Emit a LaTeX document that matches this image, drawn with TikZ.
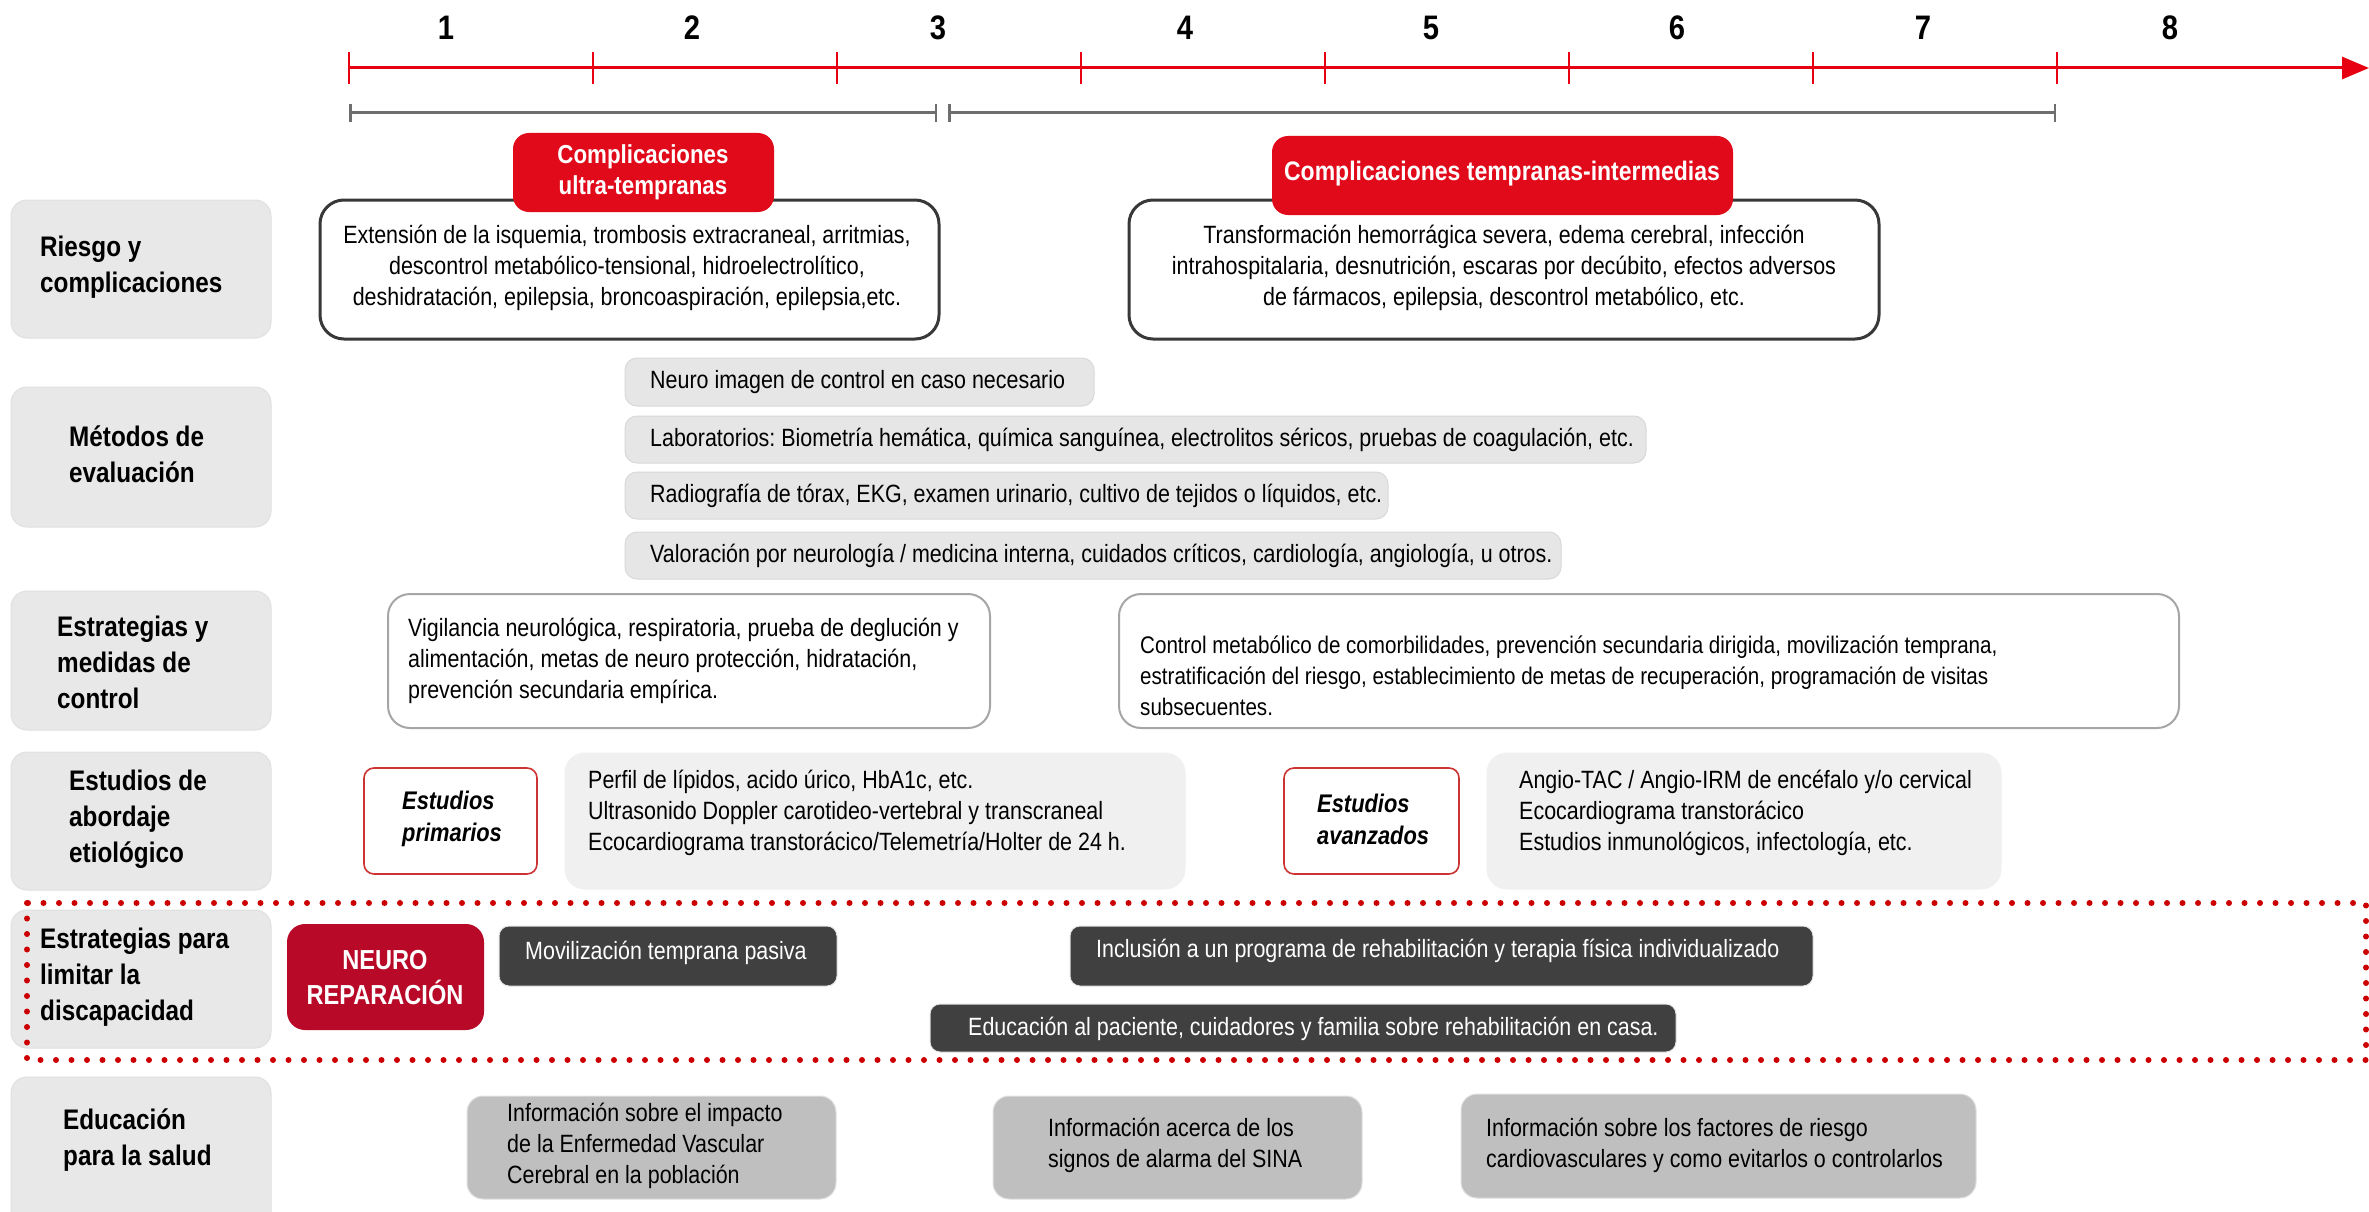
\documentclass[tikz,border=0pt]{standalone}
\usepackage{fontspec}
\setmainfont{Liberation Sans}[FakeStretch=0.858]
\usetikzlibrary{arrows.meta}
\definecolor{axisred}{HTML}{E60012}
\definecolor{compred}{HTML}{E00A1A}
\definecolor{neurored}{HTML}{B80A28}
\definecolor{dotred}{HTML}{CC0000}
\definecolor{lblgray}{HTML}{E8E8E8}
\definecolor{metgray}{HTML}{E6E6E6}
\definecolor{estgray}{HTML}{F0F0F0}
\definecolor{edugray}{HTML}{BFBFBF}
\definecolor{darkbox}{HTML}{404040}
\definecolor{bracketgray}{HTML}{6E6E6E}
\newcommand\mybox[6]{\node[#2,minimum width={(#5-#3)*1pt},minimum height={(#6-#4)*1pt},inner sep=0pt] (#1) at ({(#3+#5)/2},{(#4+#6)/2}) {};}
\tikzset{
  lblbox/.style={fill=lblgray,draw=black!12,line width=1pt,rounded corners=16pt},
  contbox/.style={fill=white,draw=black!78,line width=3pt,rounded corners=24pt},
  compbox/.style={fill=compred,rounded corners=16pt},
  metbox/.style={fill=metgray,draw=black!15,line width=1pt,rounded corners=12pt},
  ctlbox/.style={fill=white,draw=black!35,line width=2pt,rounded corners=22pt},
  tagbox/.style={fill=white,draw=red!75!black!80,line width=1.6pt,rounded corners=10pt},
  estbox/.style={fill=estgray,draw=black!6,line width=1pt,rounded corners=20pt},
  neurobox/.style={fill=neurored,rounded corners=18pt},
  darkrbox/.style={fill=darkbox,draw=black!10,line width=1pt,rounded corners=10pt},
  edubox/.style={fill=edugray,draw=black!12,line width=1pt,rounded corners=16pt},
  txt/.style={inner sep=0pt,align=left,font=\fontsize{25}{31}\selectfont\frenchspacing},
  ctxt/.style={inner sep=0pt,align=center,font=\fontsize{25}{31}\selectfont\frenchspacing},
  lbl/.style={inner sep=0pt,align=left,font=\fontsize{28.3}{36}\selectfont\bfseries},
  wtxt/.style={inner sep=0pt,align=left,text=white,font=\fontsize{25}{31}\selectfont\frenchspacing},
  wbold/.style={inner sep=0pt,align=center,text=white,font=\fontsize{26}{31}\selectfont\bfseries},
  tagtxt/.style={inner sep=0pt,align=left,font=\fontsize{25.5}{32}\selectfont\bfseries\itshape},
  numtxt/.style={inner sep=0pt,font=\fontsize{34}{40}\selectfont\bfseries},
  tickline/.style={draw=axisred,line width=1.6pt},
}
\begin{document}
\begin{tikzpicture}[x=1pt,y=-1pt]
\useasboundingbox[fill=white] (0,0) rectangle (2369,1212);
% ---------- timeline ----------
\coordinate (t0) at (349,68);
\coordinate (tend) at (2369,68);
\draw[draw=axisred,line width=3pt,-{Triangle[length=27pt,width=22pt]}] (t0) -- (tend);
\foreach \i/\x in {1/349,2/593,3/837,4/1081,5/1325,6/1569,7/1813,8/2057}{
  \coordinate (tk\i a) at (\x,52);
  \coordinate (tk\i b) at (\x,84);
  \draw[tickline] (tk\i a) -- (tk\i b);
}
\foreach \i/\x in {1/446,2/692,3/938,4/1185,5/1431,6/1677,7/1923,8/2170}{
  \node[numtxt] (n\i) at (\x,28) {\i};
}
% ---------- brackets ----------
\coordinate (b1a) at (349,113);
\coordinate (b1b) at (937,113);
\coordinate (b2a) at (948,113);
\coordinate (b2b) at (2056,113);
\draw[draw=bracketgray,line width=3pt,{Bar[width=18pt,line width=2.5pt]}-{Bar[width=18pt,line width=2.5pt]}] (b1a) -- (b1b);
\draw[draw=bracketgray,line width=3pt,{Bar[width=18pt,line width=2.5pt]}-{Bar[width=18pt,line width=2.5pt]}] (b2a) -- (b2b);
% ---------- row labels ----------
\mybox{L1}{lblbox}{11}{200}{271}{338}
\mybox{L2}{lblbox}{11}{387}{271}{527}
\mybox{L3}{lblbox}{11}{591}{271}{730}
\mybox{L4}{lblbox}{11}{752}{271}{890}
\mybox{L5}{lblbox}{11}{910}{271}{1048}
\mybox{L6}{lblbox}{11}{1077}{271}{1230}
\node[lbl,anchor=west] (L1t) at (40,267) {Riesgo y\\complicaciones};
\node[lbl,anchor=west] (L2t) at (69,454) {Métodos de\\evaluación};
\node[lbl,anchor=west] (L3t) at (57,662) {Estrategias y\\medidas de\\control};
\node[lbl,anchor=west] (L4t) at (69,819) {Estudios de\\abordaje\\etiológico};
\node[lbl,anchor=west] (L5t) at (40,977) {Estrategias para\\limitar la\\discapacidad};
\node[lbl,anchor=west] (L6t) at (63,1140) {Educación\\para la salud};
% ---------- row 1 ----------
\mybox{C1}{contbox}{320}{200}{939}{339}
\mybox{C2}{contbox}{1129}{200}{1879}{339}
\node[ctxt] (C1t) at (627,268) {Extensión de la isquemia, trombosis extracraneal, arritmias,\\descontrol metabólico-tensional, hidroelectrolítico,\\deshidratación, epilepsia, broncoaspiración, epilepsia,etc.};
\node[ctxt] (C2t) at (1504,268) {Transformación hemorrágica severa, edema cerebral, infección\\intrahospitalaria, desnutrición, escaras por decúbito, efectos adversos\\de fármacos, epilepsia, descontrol metabólico, etc.};
\mybox{R1}{compbox}{513}{133}{774}{212}
\mybox{R2}{compbox}{1272}{136}{1733}{215}
\node[wbold] (R1t) at (643,172) {Complicaciones\\ultra-tempranas};
\node[wbold,font=\fontsize{26.8}{31}\selectfont\bfseries] (R2t) at (1502,174) {Complicaciones tempranas-intermedias};
% ---------- row 2 ----------
\mybox{M1}{metbox}{625}{358}{1094}{406}
\mybox{M2}{metbox}{625}{416}{1646}{463}
\mybox{M3}{metbox}{625}{472}{1388}{519}
\mybox{M4}{metbox}{625}{532}{1561}{579}
\node[txt,anchor=west] (M1t) at (650,382) {Neuro imagen de control en caso necesario};
\node[txt,anchor=west] (M2t) at (650,440) {Laboratorios: Biometría hemática, química sanguínea, electrolitos séricos, pruebas de coagulación, etc.};
\node[txt,anchor=west] (M3t) at (650,496) {Radiografía de tórax, EKG, examen urinario, cultivo de tejidos o líquidos, etc.};
\node[txt,anchor=west] (M4t) at (650,556) {Valoración por neurología / medicina interna, cuidados críticos, cardiología, angiología, u otros.};
% ---------- row 3 ----------
\mybox{S1}{ctlbox}{388}{594}{990}{728}
\mybox{S2}{ctlbox}{1119}{594}{2179}{728}
\node[txt,anchor=west] (S1t) at (408,661) {Vigilancia neurológica, respiratoria, prueba de deglución y\\alimentación, metas de neuro protección, hidratación,\\prevención secundaria empírica.};
\node[txt,anchor=west,font=\fontsize{24}{31}\selectfont\frenchspacing] (S2t) at (1140,676) {Control metabólico de comorbilidades, prevención secundaria dirigida, movilización temprana,\\estratificación del riesgo, establecimiento de metas de recuperación, programación de visitas\\subsecuentes.};
% ---------- row 4 ----------
\mybox{E1}{tagbox}{364}{768}{537}{874}
\mybox{P1}{estbox}{565}{753}{1185}{889}
\mybox{E2}{tagbox}{1284}{768}{1459}{874}
\mybox{P2}{estbox}{1487}{753}{2001}{889}
\node[tagtxt,anchor=west] (E1t) at (402,819) {Estudios\\primarios};
\node[tagtxt,anchor=west] (E2t) at (1317,819) {Estudios\\avanzados};
\node[txt,anchor=west] (P1t) at (588,813) {Perfil de lípidos, acido úrico, HbA1c, etc.\\Ultrasonido Doppler carotideo-vertebral y transcraneal\\Ecocardiograma transtorácico/Telemetría/Holter de 24 h.};
\node[txt,anchor=west] (P2t) at (1519,813) {Angio-TAC / Angio-IRM de encéfalo y/o cervical\\Ecocardiograma transtorácico\\Estudios inmunológicos, infectología, etc.};
% ---------- row 5 ----------
\mybox{NR}{neurobox}{287}{924}{484}{1030}
\node[inner sep=0pt,align=center,text=white,font=\fontsize{27.5}{35}\selectfont\bfseries] (NRt) at (385,978) {NEURO\\REPARACIÓN};
\mybox{D1}{darkrbox}{499}{926}{837}{986}
\mybox{D2}{darkrbox}{1070}{926}{1813}{986}
\mybox{D3}{darkrbox}{930}{1004}{1676}{1052}
\node[wtxt,anchor=west] (D1t) at (525,953) {Movilización temprana pasiva};
\node[wtxt,anchor=west] (D2t) at (1096,951) {Inclusión a un programa de rehabilitación y terapia física individualizado};
\node[wtxt,anchor=west] (D3t) at (968,1029) {Educación al paciente, cuidadores y familia sobre rehabilitación en casa.};
\coordinate (dotA) at (27,903);
\coordinate (dotB) at (2366,1060);
\draw[draw=dotred,line width=6pt,line cap=round,dash pattern=on 0pt off 15.5pt] (dotA) rectangle (dotB);
% ---------- row 6 ----------
\mybox{U1}{edubox}{467}{1096}{836}{1199}
\mybox{U2}{edubox}{993}{1096}{1362}{1199}
\mybox{U3}{edubox}{1461}{1094}{1976}{1198}
\node[txt,anchor=west] (U1t) at (507,1146) {Información sobre el impacto\\de la Enfermedad Vascular\\Cerebral en la población};
\node[txt,anchor=west] (U2t) at (1048,1145) {Información acerca de los\\signos de alarma del SINA};
\node[txt,anchor=west] (U3t) at (1486,1145) {Información sobre los factores de riesgo\\cardiovasculares y como evitarlos o controlarlos};
\end{tikzpicture}
\end{document}
